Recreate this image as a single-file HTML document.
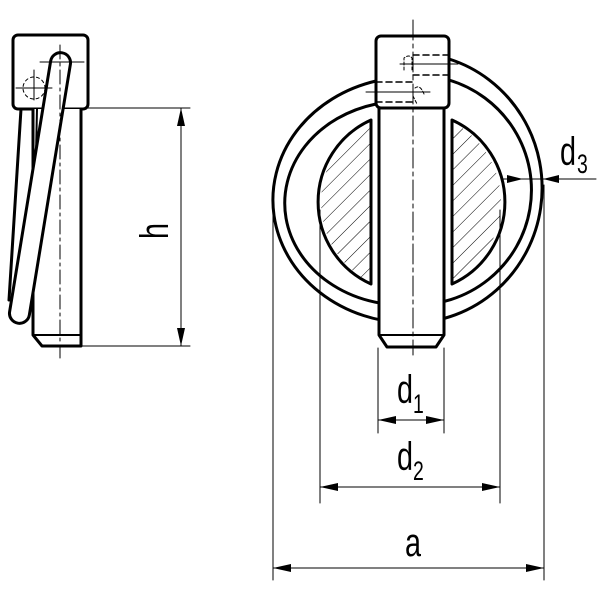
<!DOCTYPE html>
<html><head><meta charset="utf-8"><style>html,body{margin:0;padding:0;background:#fff}</style></head>
<body>
<svg width="600" height="600" viewBox="0 0 600 600" xmlns="http://www.w3.org/2000/svg">
<defs>
<pattern id="h" patternUnits="userSpaceOnUse" width="11" height="11" patternTransform="rotate(45)">
<line x1="0" y1="0" x2="0" y2="11" stroke="#000" stroke-width="1"/>
</pattern>
<clipPath id="c"><circle cx="411" cy="202" r="90"/></clipPath>
</defs>
<g fill="none" stroke="#000" stroke-linecap="round" stroke-linejoin="round">
<!-- LEFT VIEW -->
<rect x="13" y="35" width="75" height="74" rx="5" stroke-width="3"/>
<path d="M33 109 V335 L42 346 H81 V109" stroke-width="3" fill="#fff"/>
<line x1="33" y1="335" x2="81" y2="335" stroke-width="2"/>
<line x1="21" y1="109" x2="9" y2="300" stroke-width="3"/>
<line x1="37" y1="109" x2="35" y2="200" stroke-width="2"/>
<g transform="translate(40,188) rotate(9.3)">
<rect x="-10" y="-137" width="20" height="274" rx="10" stroke-width="3" fill="#fff"/>
</g>
<line x1="60" y1="45" x2="60" y2="358" stroke-width="1" stroke-dasharray="14,4,3,4"/>
<line x1="40" y1="62" x2="84" y2="62" stroke-width="1"/>
<circle cx="34" cy="88" r="11" stroke-width="1" stroke-dasharray="3,3"/>
<line x1="16" y1="88" x2="52" y2="88" stroke-width="1"/>
<line x1="34" y1="70" x2="34" y2="100" stroke-width="1"/>
<!-- h dimension -->
<line x1="88" y1="108" x2="190" y2="108" stroke-width="1"/>
<line x1="81" y1="346" x2="190" y2="346" stroke-width="1"/>
<line x1="181" y1="108" x2="181" y2="346" stroke-width="1"/>
<path d="M181 108 L177 126 L185 126 Z M181 346 L177 328 L185 328 Z" fill="#000" stroke="none"/>

<!-- RIGHT VIEW ring -->
<path d="M376 81 A138 123 0 0 0 411 323 A132 135 0 0 0 449 59" stroke-width="3"/>
<path d="M376 104 A119 102 0 0 0 411 305 A116 115 0 0 0 449 80" stroke-width="3"/>
<!-- hatched circle -->
<g clip-path="url(#c)">
<rect x="321" y="112" width="50" height="180" fill="url(#h)" stroke="none"/>
<rect x="452" y="112" width="50" height="180" fill="url(#h)" stroke="none"/>
<rect x="371" y="100" width="81" height="200" fill="#fff" stroke="none"/>
</g>
<path d="M371 120 A90 90 0 0 0 371 284 Z" stroke-width="3"/>
<path d="M452 120 A90 90 0 0 1 452 284 Z" stroke-width="3"/>
<!-- pin -->
<path d="M379 108 V335 L387 347 H436 L444 335 V108" stroke-width="3" fill="#fff"/>
<line x1="379" y1="335" x2="444" y2="335" stroke-width="2"/>
<rect x="376" y="36" width="73" height="72" rx="5" stroke-width="3" fill="#fff"/>
<g stroke-width="1.5" stroke-dasharray="6,4">
<line x1="413" y1="55" x2="449" y2="55"/><line x1="413" y1="75" x2="449" y2="75"/>
<line x1="376" y1="82" x2="413" y2="82"/><line x1="376" y1="102" x2="413" y2="102"/>
</g>
<g stroke-width="1">
<line x1="400" y1="64" x2="458" y2="64"/><line x1="366" y1="92" x2="430" y2="92"/>
<path d="M404 70 V58 Q409 54 412 58 V70" stroke-dasharray="3,2"/>
<path d="M415 88 Q420 84 424 94 M413 96 L417 104" stroke-dasharray="3,2"/>
</g>
<line x1="413" y1="20" x2="413" y2="355" stroke-width="1" stroke-dasharray="20,4,4,4"/>
<!-- dimensions -->
<g stroke-width="1">
<line x1="273" y1="190" x2="273" y2="580"/><line x1="544" y1="185" x2="544" y2="580"/>
<line x1="273" y1="568" x2="544" y2="568"/>
<line x1="320" y1="210" x2="320" y2="503"/><line x1="500" y1="210" x2="500" y2="503"/>
<line x1="320" y1="487" x2="500" y2="487"/>
<line x1="378" y1="348" x2="378" y2="433"/><line x1="444" y1="348" x2="444" y2="433"/>
<line x1="378" y1="420" x2="444" y2="420"/>
<line x1="502" y1="179" x2="596" y2="179"/>
</g>
<path d="M273 568 L291 564 L291 572 Z M544 568 L526 564 L526 572 Z
M320 487 L338 483 L338 491 Z M500 487 L482 483 L482 491 Z
M378 420 L396 416 L396 424 Z M444 420 L426 416 L426 424 Z
M523 179 L507 175 L507 183 Z M543 179 L559 175 L559 183 Z" fill="#000" stroke="none"/>
</g>
<g font-family="Liberation Sans, sans-serif" fill="#000">
<g transform="translate(397,403) scale(0.72,1)"><text font-size="40">d</text></g>
<g transform="translate(413,413) scale(0.72,1)"><text font-size="27">1</text></g>
<g transform="translate(397,470) scale(0.72,1)"><text font-size="40">d</text></g>
<g transform="translate(413,480) scale(0.72,1)"><text font-size="27">2</text></g>
<g transform="translate(405,556) scale(0.72,1)"><text font-size="40">a</text></g>
<g transform="translate(560,165) scale(0.72,1)"><text font-size="40">d</text></g>
<g transform="translate(577,173) scale(0.72,1)"><text font-size="27">3</text></g>
<g transform="translate(168,239) rotate(-90) scale(0.72,1)"><text font-size="40">h</text></g>
</g>
</svg>
</body></html>
